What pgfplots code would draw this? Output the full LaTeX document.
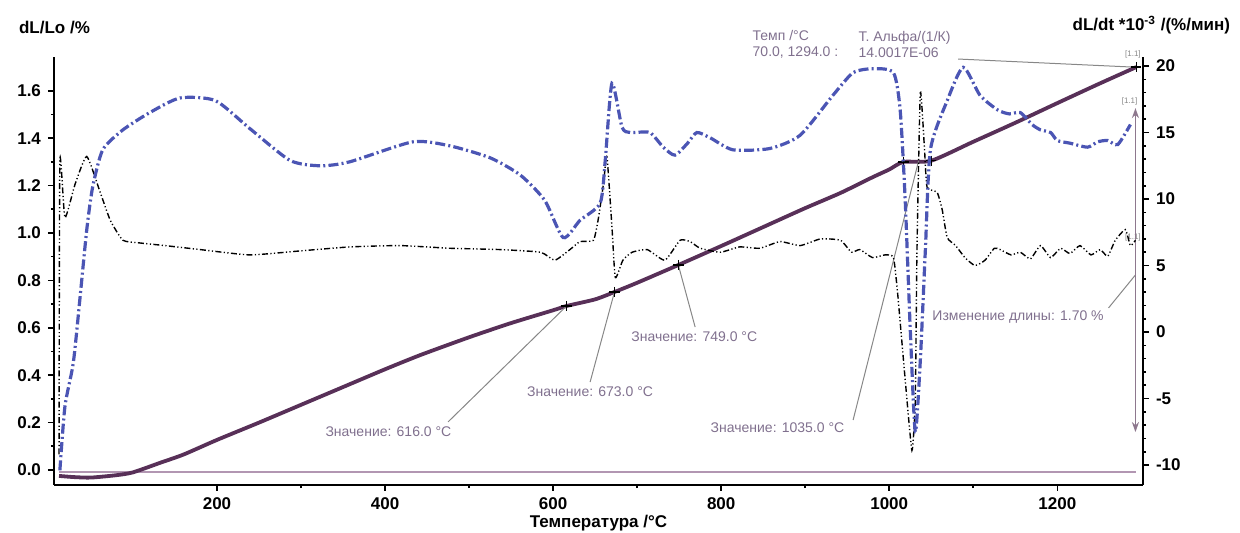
\documentclass[border=0pt]{standalone}
\usepackage{fontspec}
\setmainfont{Liberation Sans}
\usepackage{pgfplots}
\usepackage{pgfplotstable}
\pgfplotsset{compat=1.18}
\usetikzlibrary{arrows.meta}

\definecolor{lenpurple}{RGB}{88,48,88}
\definecolor{dblue}{RGB}{75,85,180}
\definecolor{annot}{RGB}{128,112,142}
\definecolor{basel}{RGB}{178,150,178}
\definecolor{leader}{RGB}{135,135,135}

% dL/Lo (%)
\pgfplotstableread{
T L
12 -0.025
30 -0.030
50 -0.032
80 -0.022
100 -0.010
132 0.030
160 0.065
200 0.127
250 0.200
300 0.275
350 0.350
400 0.425
442 0.485
500 0.560
550 0.620
600 0.674
616 0.692
650 0.720
673 0.751
700 0.790
749 0.865
800 0.945
850 1.025
900 1.105
942 1.169
980 1.235
1000 1.268
1017 1.300
1050 1.305
1100 1.385
1150 1.465
1200 1.548
1250 1.630
1294 1.700
}\lentab

% blue derivative curve
\pgfplotstableread{
T v
13 -10.4
19 -5.6
29 -2.3
37 2.6
45 7.7
52 10.9
64 13.7
88 15.2
120 16.5
156 17.6
198 17.4
239 15.3
287 12.9
323 12.5
358 12.8
433 14.3
477 14.0
525 13.1
561 11.8
590 9.9
612 7.1
632 8.4
656 9.7
662 12.9
670 18.7
682 15.4
692 15.0
715 15.0
731 13.9
745 13.3
760 14.2
771 15.0
787 14.6
814 13.7
858 13.8
894 14.8
933 17.8
957 19.5
981 19.8
1005 19.5
1013 16.7
1019 9.9
1025 0.2
1031 -7.5
1037 -2.1
1043 6.2
1049 13.7
1069 17.4
1088 19.9
1108 17.8
1129 16.7
1143 16.4
1156 16.5
1170 15.6
1180 15.2
1192 15.0
1200 14.4
1215 14.2
1236 13.9
1248 14.3
1260 14.4
1272 14.1
1287 15.6
}\bluetab

% black derivative curve
\pgfplotstableread{
T v
12 -9.2
13 12.9
19 8.6
31 11.1
45 13.2
61 10.5
73 8.4
88 6.9
108 6.7
138 6.5
180 6.2
239 5.8
299 6.1
358 6.4
418 6.5
477 6.3
537 6.2
585 6.0
602 5.4
620 6.2
632 6.8
648 6.9
654 8.6
660 11.2
664 13.2
670 7.9
674 4.1
683 5.4
694 6.0
712 6.2
733 5.4
751 6.9
763 6.8
775 6.3
799 6.0
822 6.4
846 6.3
870 6.8
894 6.5
918 7.0
942 6.9
955 6.0
965 6.2
980 5.6
995 5.8
1005 5.6
1010 2.9
1019 -3.6
1027 -8.9
1031 -5.1
1033 6.2
1037 18.0
1042 13.7
1045 10.9
1057 10.5
1063 9.2
1069 7.1
1079 6.5
1090 5.6
1102 5.0
1114 5.4
1125 6.3
1132 6.2
1145 5.8
1156 6.0
1168 5.5
1180 6.5
1192 5.6
1204 6.3
1215 5.9
1227 6.5
1240 5.8
1251 6.2
1260 5.7
1269 6.9
1281 7.7
1287 6.5
1293 6.9
}\blacktab

\begin{document}
\begin{tikzpicture}
\useasboundingbox (-27pt,-24pt) rectangle (593pt,242.5pt);
\pgfplotsset{
  common/.style={
    scale only axis, width=544.5pt, height=214pt,
    xmin=6, xmax=1302,
    tick align=outside,
    major tick length=3pt, minor tick length=1.6pt,
    every tick/.style={black, line width=0.8pt},
    axis line style={-, line width=1.3pt},
    ticklabel style={font=\bfseries\fontsize{8.5}{10}\selectfont},
    /pgf/number format/assume math mode=true,
    /pgf/number format/set thousands separator={},
  }
}
\begin{axis}[common,
  ymin=-0.0633, ymax=1.7426,
  axis x line*=bottom, axis y line*=left,
  xtick={200,400,...,1200}, minor x tick num=1,
  ytick={0,0.2,...,1.6}, minor y tick num=1,
  yticklabel style={/pgf/number format/.cd, fixed, fixed zerofill, precision=1},
  xlabel={Температура /°C},
  xlabel style={font=\bfseries\fontsize{8.5}{10}\selectfont, at={(axis description cs:0.5,0)}, anchor=center, yshift=-19pt},
  clip=false]
\addplot[basel, line width=1.1pt] coordinates {(12,-0.010) (1294,-0.010)};
\addplot[lenpurple, line width=1.9pt, smooth, tension=0.4] table[x=T,y=L] {\lentab};
\addplot[only marks, mark=+, mark size=2.6pt, black, line width=0.7pt]
  coordinates {(616,0.692) (673,0.751) (749,0.865) (1017,1.300) (1050,1.305) (1294,1.700)};

\begin{scope}[font=\fontsize{7}{8}\selectfont, text=annot]
\draw[leader, line width=0.5pt] (axis cs:475,0.203) -- (axis cs:616,0.692);
\node at (axis cs:404,0.160) {Значение: 616.0 °C};
\draw[leader, line width=0.5pt] (axis cs:644,0.371) -- (axis cs:673,0.751);
\node at (axis cs:644,0.329) {Значение: 673.0 °C};
\draw[leader, line width=0.5pt] (axis cs:769,0.603) -- (axis cs:749,0.865);
\node at (axis cs:768,0.561) {Значение: 749.0 °C};
\draw[leader, line width=0.5pt] (axis cs:957,0.211) -- (axis cs:1035,1.305);
\node at (axis cs:867,0.177) {Значение: 1035.0 °C};
\draw[leader, line width=0.5pt] (axis cs:1261,0.684) -- (axis cs:1293,0.823);
\node[anchor=west] at (axis cs:1043,0.646) {Изменение длины: 1.70 \%};
\draw[leader, line width=0.5pt] (axis cs:1082,1.734) -- (axis cs:1290,1.700);
\node[anchor=west, align=left, inner sep=0pt] at (axis cs:837,1.795) {Темп /°C\\70.0, 1294.0 :};
\node[anchor=west, align=left, inner sep=0pt] at (axis cs:963,1.795) {Т. Альфа/(1/К)\\14.0017E-06};
\node[font=\fontsize{4}{4}\selectfont, text=leader] at (axis cs:1290,1.755) {[1.1]};
\node[font=\fontsize{4}{4}\selectfont, text=leader] at (axis cs:1286,1.555) {[1.1]};
\node[font=\fontsize{4}{4}\selectfont, text=leader] at (axis cs:1290,0.98) {[1.1]};
\end{scope}
\draw[basel!80!black, line width=0.8pt, {Stealth[length=5pt,width=3.5pt]}-{Stealth[length=5pt,width=3.5pt]}]
  (axis cs:1293,1.527) -- (axis cs:1293,0.160);
\end{axis}

\begin{axis}[common,
  ymin=-11.5, ymax=20.68,
  axis x line=none, axis y line*=right,
  ytick={-10,-5,...,20}, minor y tick num=4,
  clip=false]
\addplot[black, line width=0.7pt, smooth, tension=0.3, dash pattern=on 3pt off 1.2pt on 0.6pt off 1.2pt on 0.6pt off 1.2pt] table[x=T,y=v] {\blacktab};
\addplot[dblue, line width=1.6pt, smooth, tension=0.4, dash pattern=on 5pt off 1.6pt on 1pt off 1.6pt] table[x=T,y=v] {\bluetab};
\end{axis}

\begin{scope}[font=\bfseries\fontsize{8.5}{10}\selectfont]
\node[anchor=west] at (-21pt,228.5pt) {dL/Lo /\%};
\node[anchor=east] at (591.5pt,230pt) {dL/dt *10\textsuperscript{-3} /(\%/мин)};
\end{scope}
\end{tikzpicture}
\end{document}
